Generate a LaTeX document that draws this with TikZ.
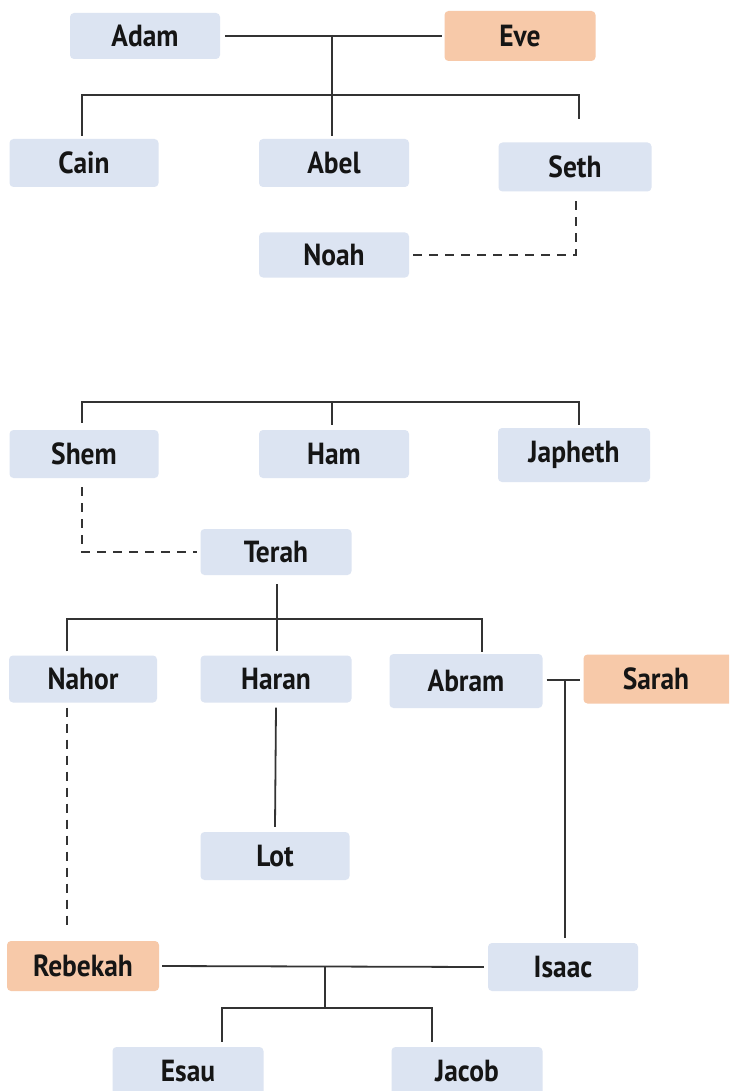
\documentclass[tikz,border=0pt]{standalone}
\usepackage{fontspec}
\newfontfamily\boxfont[FakeStretch=0.9]{PT Sans}
\definecolor{boxblue}{HTML}{DCE4F2}
\definecolor{boxorange}{HTML}{F7C9A9}
\definecolor{linecol}{HTML}{333333}
\definecolor{textcol}{HTML}{151515}
\tikzset{
  person/.style={rounded corners=4pt, fill=boxblue, inner sep=0pt, text=textcol,
    font=\boxfont\bfseries\fontsize{30.5}{33}\selectfont},
  wife/.style={person, fill=boxorange},
  link/.style={draw=linecol, line width=1.8pt},
  dlink/.style={draw=linecol, line width=2pt, dash pattern=on 9pt off 7pt},
}
\begin{document}
\begin{tikzpicture}[x=1pt,y=-1pt]
\clip (0,0) rectangle (729,1091);
\fill[white] (0,0) rectangle (729,1091);
% nodes
\node[person, minimum width=150pt, minimum height=46pt] (Adam) at (145,36) {Adam};
\node[wife, minimum width=151pt, minimum height=50pt] (Eve) at (520,36) {Eve};
\node[person, minimum width=149pt, minimum height=48pt] (Cain) at (84,163) {Cain};
\node[person, minimum width=150pt, minimum height=48pt] (Abel) at (334,163) {Abel};
\node[person, minimum width=153pt, minimum height=49pt] (Seth) at (575,167) {Seth};
\node[person, minimum width=150pt, minimum height=45pt] (Noah) at (334,255) {Noah};
\node[person, minimum width=149pt, minimum height=48pt] (Shem) at (84,454) {Shem};
\node[person, minimum width=150pt, minimum height=48pt] (Ham) at (334,454) {Ham};
\node[person, minimum width=152pt, minimum height=54pt] (Japheth) at (574,455) {Japheth};
\node[person, minimum width=151pt, minimum height=46pt] (Terah) at (276,552) {Terah};
\node[person, minimum width=148pt, minimum height=47pt] (Nahor) at (83,679) {Nahor};
\node[person, minimum width=151pt, minimum height=47pt] (Haran) at (276,679) {Haran};
\node[person, minimum width=153pt, minimum height=54pt] (Abram) at (466,681) {Abram};
\node[wife, minimum width=151pt, minimum height=49pt] (Sarah) at (659,679) {\hspace*{-6pt}Sarah};
\node[person, minimum width=149pt, minimum height=48pt] (Lot) at (275,856) {Lot};
\node[wife, minimum width=152pt, minimum height=50pt] (Rebekah) at (83,966) {Rebekah};
\node[person, minimum width=150pt, minimum height=48pt] (Isaac) at (563,967) {Isaac};
\node[person, minimum width=151pt, minimum height=48pt] (Esau) at (188,1071) {Esau};
\node[person, minimum width=151pt, minimum height=48pt] (Jacob) at (467,1071) {Jacob};
% junction coordinates
\coordinate (ae) at (332,35);
\coordinate (cb) at (332,95);
\coordinate (sb) at (332,402);
\coordinate (tb) at (277,619);
\coordinate (as) at (565,680);
\coordinate (ri) at (325,966);
\coordinate (rj) at (325,1008);
% Adam & Eve
\draw[link] ([xshift=5pt]Adam.east) -- ([xshift=-2pt]Eve.west);
\draw[link] (ae) -- ([yshift=3pt]Abel.north -| ae);
\draw[link] ([xshift=-2pt,yshift=3pt]Cain.north) |- (cb) -| ([xshift=4pt,yshift=23pt]Seth.north);
\draw[dlink] ([xshift=4pt]Noah.east) -| ([xshift=1pt,yshift=-3pt]Seth.south);
% Noah's sons
\draw[link] ([xshift=-2pt,yshift=7pt]Shem.north) |- (sb) -| ([xshift=5pt,yshift=3pt]Japheth.north);
\draw[link] (sb) -- ([yshift=5pt]Ham.north -| sb);
\draw[dlink] ([xshift=-2pt,yshift=-9pt]Shem.south) |- ([xshift=-3pt]Terah.west);
% Terah's sons
\draw[link] ([yshift=-9pt]Terah.south -| tb) -- (tb);
\draw[link] ([xshift=-16pt,yshift=4pt]Nahor.north) |- (tb) -| ([xshift=16pt,yshift=2pt]Abram.north);
\draw[link] (tb) -- ([yshift=4pt]Haran.north -| tb);
\draw[link] ([yshift=-5pt]Haran.south) -- ([yshift=5pt]Lot.north);
\draw[dlink] ([xshift=-16pt,yshift=-5pt]Nahor.south) -- ([xshift=-16pt,yshift=11pt]Rebekah.north);
% Abram & Sarah
\draw[link] ([xshift=4pt]Abram.east |- as) -- ([xshift=-3pt]Sarah.west |- as);
\draw[link] (as) -- ([yshift=5pt]Isaac.north -| as);
% Isaac & Rebekah
\draw[link] ([xshift=3pt]Rebekah.east) -- ([xshift=-4pt]Isaac.west);
\draw[link] (ri) -- (rj);
\draw[link] ([xshift=34pt,yshift=5pt]Esau.north) |- (rj) -| ([xshift=-35pt,yshift=5pt]Jacob.north);
\end{tikzpicture}
\end{document}
